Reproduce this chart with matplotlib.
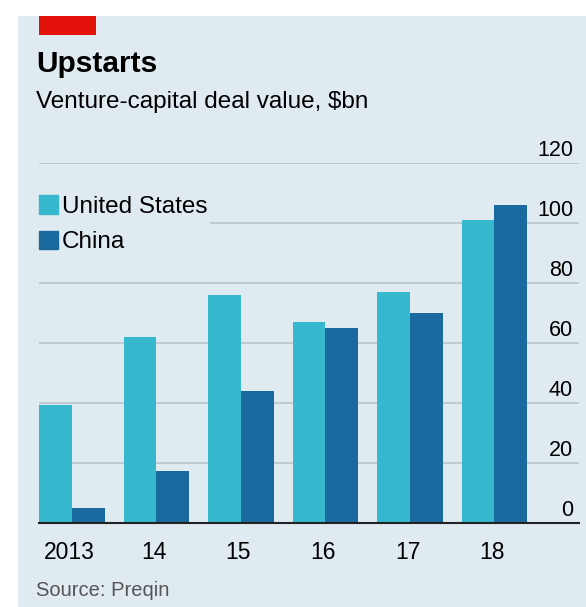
import numpy as np
import matplotlib
matplotlib.use("Agg")
import matplotlib.pyplot as plt
from matplotlib.patches import Rectangle, Patch

years = ["2013", "14", "15", "16", "17", "18"]
us_values = [39.5, 62, 76, 67, 77, 101]
china_values = [5.2, 17.3, 44, 65, 70, 106]
y_ticks = [0, 20, 40, 60, 80, 100, 120]

BG = "#e0eaf1"
US_COL = "#36b9cf"
CN_COL = "#1a6aa0"
RED = "#e3120b"

plt.rcParams['font.family'] = ['Liberation Sans', 'DejaVu Sans']

W, H = 586, 607
fig = plt.figure(figsize=(W / 100, H / 100), dpi=100)
fig.patch.set_facecolor("white")

# panel background
fig.patches.append(Rectangle((17.5 / W, 0), 1, 1 - 16 / H, transform=fig.transFigure,
                             facecolor=BG, edgecolor="none", zorder=-2))
# red tag
fig.patches.append(Rectangle((39 / W, 1 - 35 / H), 57 / W, 19 / H, transform=fig.transFigure,
                             facecolor=RED, edgecolor="none", zorder=-1))

fig.text(36 / W, 1 - 72 / H, "Upstarts", fontsize=21.5, fontweight="bold", color="black")
fig.text(36 / W, 1 - 108 / H, "Venture-capital deal value, $bn", fontsize=17.5, color="black")
fig.text(36 / W, 1 - 596 / H, "Source: Preqin", fontsize=14.5, color="#555555")

ax = fig.add_axes([39 / W, 1 - 523.3 / H, 540 / W, 360 / H])
ax.set_facecolor("none")

x = np.arange(len(years))
w = 0.39
ax.bar(x - w / 2, us_values, w, color=US_COL, label="United States", zorder=3)
ax.bar(x + w / 2, china_values, w, color=CN_COL, label="China", zorder=3)

ax.set_xlim(-0.39, 6.0)
ax.set_ylim(0, 120)
ax.set_yticks(y_ticks)
ax.yaxis.grid(True, color="#b9c4cc", linewidth=1.2, zorder=1)
ax.set_axisbelow(True)
ax.tick_params(axis="y", length=0, labelleft=False)
for s in ["top", "left", "right"]:
    ax.spines[s].set_visible(False)
ax.spines["bottom"].set_color("#222222")
ax.spines["bottom"].set_linewidth(1.5)
ax.spines["bottom"].set_zorder(4)

# y labels sit above the gridlines at the right end
for t in y_ticks:
    ax.annotate(str(t), xy=(0.989, t), xycoords=("axes fraction", "data"),
                xytext=(0, 1.5), textcoords="offset points",
                ha="right", va="bottom", fontsize=15.5, color="black")

ax.set_xticks(x - 0.03)
ax.set_xticklabels(years, fontsize=16.5)
ax.tick_params(axis="x", length=0, pad=12.5)

leg = ax.legend(handles=[Patch(color=US_COL, label="United States"),
                         Patch(color=CN_COL, label="China")],
                loc="upper left", bbox_to_anchor=(37 / W, 1 - 193 / H),
                bbox_transform=fig.transFigure, fontsize=17.5, frameon=True,
                facecolor=BG, edgecolor="none", framealpha=1, fancybox=False,
                handlelength=0.78, handleheight=0.78, handletextpad=0.15,
                labelspacing=0.52, borderpad=0.1, borderaxespad=0)
leg.set_zorder(5)

fig.savefig("out.png", dpi=100)
